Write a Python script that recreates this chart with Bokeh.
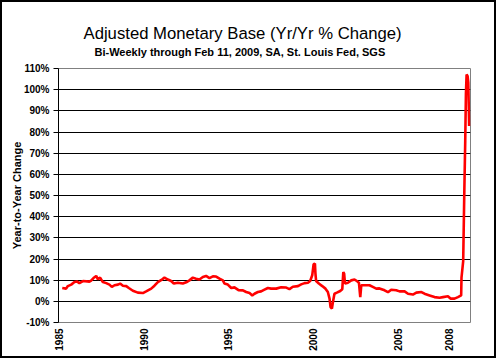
import math
from bokeh.plotting import figure
from bokeh.models import FixedTicker, PrintfTickFormatter, Title, Range1d
from bokeh.embed import file_html
from bokeh.resources import INLINE

title_text = "Adjusted Monetary Base (Yr/Yr % Change)"
subtitle_text = "Bi-Weekly through Feb 11, 2009, SA, St. Louis Fed, SGS"
y_axis_title = "Year-to-Year Change"

x_ticks = [1985, 1990, 1995, 2000, 2005, 2008]
y_ticks = [-10, 0, 10, 20, 30, 40, 50, 60, 70, 80, 90, 100, 110]
grid_ticks = [0, 10, 20, 30, 40, 50, 60, 70, 80, 90, 100]

years = [
    1985.21, 1985.44, 1985.54, 1985.74, 1985.93, 1986.07, 1986.22, 1986.43, 1986.81, 1986.91,
    1987.05, 1987.21, 1987.31, 1987.44, 1987.60, 1987.80, 1987.99, 1988.13, 1988.29, 1988.49,
    1988.62, 1988.78, 1988.98, 1989.13, 1989.37, 1989.66, 1989.96, 1990.15, 1990.45, 1990.64,
    1990.84, 1991.10, 1991.23, 1991.43, 1991.62, 1991.78, 1992.02, 1992.31, 1992.51, 1992.70,
    1992.90, 1993.09, 1993.29, 1993.49, 1993.68, 1993.88, 1994.08, 1994.27, 1994.47, 1994.67,
    1994.76, 1994.96, 1995.16, 1995.35, 1995.59, 1995.85, 1996.04, 1996.24, 1996.40, 1996.53,
    1996.73, 1996.92, 1997.12, 1997.32, 1997.51, 1997.81, 1998.10, 1998.40, 1998.59, 1998.79,
    1999.09, 1999.28, 1999.48, 1999.68, 1999.81, 1999.93, 2000.01, 2000.09, 2000.12, 2000.16,
    2000.32, 2000.52, 2000.71, 2000.85, 2000.95, 2001.01, 2001.09, 2001.15, 2001.24, 2001.38,
    2001.58, 2001.70, 2001.76, 2001.81, 2001.86, 2002.03, 2002.23, 2002.42, 2002.56, 2002.68,
    2002.76, 2002.82, 2003.01, 2003.30, 2003.50, 2003.70, 2003.89, 2004.19, 2004.39, 2004.58,
    2004.88, 2005.07, 2005.37, 2005.57, 2005.86, 2006.06, 2006.36, 2006.54, 2006.84, 2007.13,
    2007.43, 2007.63, 2007.92, 2008.07, 2008.31, 2008.51, 2008.70, 2008.72, 2008.82, 2008.88,
    2008.94, 2008.98, 2009.02, 2009.08, 2009.12, 2009.17,
]
pct_change = [
    6.3, 6.0, 7.2, 7.9, 9.1, 9.4, 8.6, 9.6, 9.3, 9.8,
    11.0, 12.0, 10.4, 11.2, 9.1, 8.6, 7.9, 6.8, 7.6, 7.9,
    8.4, 7.4, 7.2, 6.3, 5.0, 4.1, 3.9, 4.7, 6.0, 7.4,
    9.1, 10.4, 11.2, 10.3, 9.6, 8.4, 8.8, 8.4, 9.0, 9.9,
    11.2, 10.7, 10.3, 11.5, 12.0, 11.0, 11.8, 11.7, 10.7, 9.9,
    8.4, 7.9, 6.3, 6.6, 5.3, 5.2, 4.4, 3.9, 2.8, 3.6,
    4.4, 4.7, 5.5, 6.3, 6.0, 6.0, 6.6, 6.5, 5.8, 6.9,
    7.2, 8.0, 8.6, 8.8, 9.6, 12.3, 17.5, 17.8, 13.1, 9.6,
    8.4, 7.2, 6.0, 4.4, 1.3, -2.7, -3.4, -0.3, 3.6, 4.1,
    4.9, 5.7, 13.8, 13.1, 8.4, 8.8, 9.9, 10.3, 9.6, 8.8,
    2.0, 7.6, 7.6, 7.6, 6.8, 6.0, 6.1, 5.2, 4.3, 5.5,
    5.2, 4.7, 4.7, 3.6, 3.2, 4.1, 4.4, 3.6, 2.8, 2.0,
    1.7, 2.0, 2.4, 1.3, 1.3, 2.0, 2.8, 11.2, 19.0, 49.0,
    75.7, 97.8, 107.2, 106.4, 103.3, 82.8,
]

FONT = "Liberation Sans"

p = figure(
    frame_width=412, frame_height=254,
    min_border_left=56, min_border_right=24, min_border_top=66, min_border_bottom=34,
    x_range=Range1d(1984.99, 2009.25), y_range=Range1d(-10, 110),
    output_backend="svg", toolbar_location=None,
    background_fill_color="white", border_fill_color="white",
)
p.styles = {"border": "2px solid black", "box-sizing": "content-box"}

p.outline_line_color = "#808080"
p.outline_line_width = 1

p.xgrid.visible = False
p.ygrid.ticker = FixedTicker(ticks=grid_ticks)
p.ygrid.grid_line_color = "black"
p.ygrid.grid_line_width = 1

p.yaxis.ticker = FixedTicker(ticks=y_ticks)
p.yaxis.formatter = PrintfTickFormatter(format="%d%%")
p.yaxis.axis_line_color = "black"
p.yaxis.major_tick_out = 5
p.yaxis.major_tick_in = 0
p.yaxis.minor_tick_line_color = None
p.yaxis.major_label_standoff = 4
p.yaxis.major_label_text_font = FONT
p.yaxis.major_label_text_font_style = "bold"
p.yaxis.major_label_text_font_size = "10px"
p.yaxis.major_label_text_color = "black"
p.yaxis.axis_label = y_axis_title
p.yaxis.axis_label_text_font = FONT
p.yaxis.axis_label_text_font_style = "bold"
p.yaxis.axis_label_text_font_size = "11px"
p.yaxis.axis_label_text_color = "black"
p.yaxis.axis_label_standoff = -2

p.xaxis.ticker = FixedTicker(ticks=x_ticks)
p.xaxis.major_label_overrides = {t: str(t) for t in x_ticks}
p.xaxis.axis_line_color = None
p.xaxis.major_tick_line_color = None
p.xaxis.major_tick_out = 0
p.xaxis.major_tick_in = 0
p.xaxis.minor_tick_line_color = None
p.xaxis.major_label_orientation = math.pi / 2
p.xaxis.major_label_standoff = 6
p.xaxis.major_label_text_font = FONT
p.xaxis.major_label_text_font_style = "bold"
p.xaxis.major_label_text_font_size = "10px"
p.xaxis.major_label_text_color = "black"

p.line(years, pct_change, line_color="#FF0000", line_width=2.6)

# spacer (closest to frame), then subtitle, then title
p.add_layout(Title(text=" ", text_font_size="1px", standoff=8), "above")
p.add_layout(Title(text=subtitle_text, align="left", offset=36, standoff=0,
                   text_font=FONT, text_font_size="11px", text_font_style="bold",
                   text_color="black"), "above")
p.add_layout(Title(text=title_text, align="left", offset=25, standoff=2,
                   text_font=FONT, text_font_size="16.7px", text_font_style="normal",
                   text_color="black"), "above")

open("out.html", "w").write(file_html(p, INLINE))
